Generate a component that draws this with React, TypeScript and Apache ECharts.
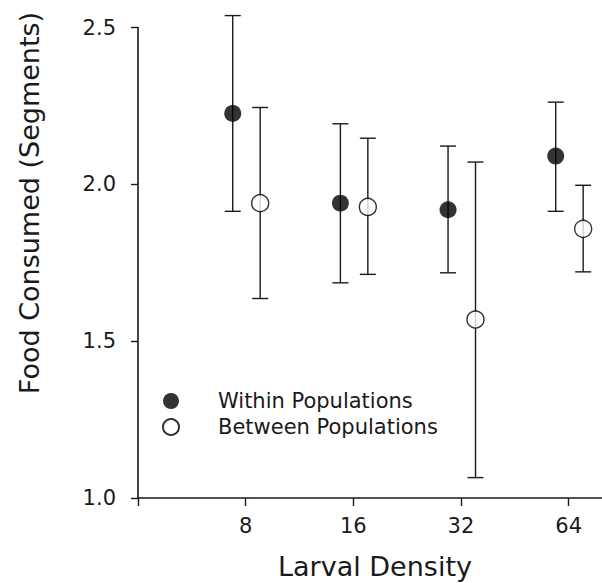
import React, { useEffect, useRef } from "react";
import * as echarts from "echarts";

// Larval density treatments (plotted on a log2 axis)
const densities = [8, 16, 32, 64];

// Within populations: mean and error-bar limits
const withinMean = [2.226, 1.94, 1.919, 2.09];
const withinLow = [1.914, 1.686, 1.718, 1.914];
const withinHigh = [2.538, 2.193, 2.122, 2.262];

// Between populations: mean and error-bar limits
const betweenMean = [1.94, 1.928, 1.569, 1.858];
const betweenLow = [1.636, 1.713, 1.065, 1.721];
const betweenHigh = [2.245, 2.147, 2.071, 1.997];

const yTicks = [1.0, 1.5, 2.0, 2.5];

const FONT = "DejaVu Sans";
const INK = "#1a1a1a";
const SHIFT_LEFT = -0.12;
const SHIFT_RIGHT = 0.135;

const lg = (d: number) => Math.log2(d);

function errorSeries(name: string, shift: number, low: number[], high: number[]) {
  return {
    type: "custom",
    name: name + " bars",
    silent: true,
    z: 2,
    data: densities.map((d, i) => [lg(d) + shift, low[i], high[i]]),
    renderItem: (_params: any, api: any) => {
      const x = api.value(0);
      const top = api.coord([x, api.value(2)]);
      const bot = api.coord([x, api.value(1)]);
      const hw = 8;
      const style = { stroke: INK, lineWidth: 1.4 };
      return {
        type: "group",
        children: [
          { type: "line", shape: { x1: top[0], y1: top[1], x2: bot[0], y2: bot[1] }, style },
          { type: "line", shape: { x1: top[0] - hw, y1: top[1], x2: top[0] + hw, y2: top[1] }, style },
          { type: "line", shape: { x1: bot[0] - hw, y1: bot[1], x2: bot[0] + hw, y2: bot[1] }, style },
        ],
      };
    },
  };
}

export default function App() {
  const ref = useRef<HTMLDivElement>(null);

  useEffect(() => {
    if (!ref.current) return;
    const chart = echarts.init(ref.current, null, { renderer: "svg" });
    chart.setOption({
      animation: false,
      backgroundColor: "#ffffff",
      textStyle: { fontFamily: FONT, color: INK },
      grid: { left: 138, top: 27.5, right: 0, bottom: 85, containLabel: false },
      legend: {
        orient: "vertical",
        left: 157,
        top: 385.5,
        itemWidth: 16,
        itemHeight: 16,
        itemGap: 5,
        icon: "circle",
        textStyle: { fontFamily: FONT, fontSize: 21, color: INK, padding: [0, 0, 0, 34] },
        data: ["Within Populations", "Between Populations"],
      },
      xAxis: {
        type: "value",
        min: 2,
        max: 6.31,
        interval: 1,
        splitLine: { show: false },
        axisLine: { lineStyle: { color: INK, width: 1.6 } },
        axisTick: {
          show: true,
          length: 8,
          inside: false,
          lineStyle: { color: INK, width: 1.4 },
          customValues: [2, 3, 4, 5, 6],
        },
        axisLabel: {
          fontFamily: FONT,
          fontSize: 21,
          color: INK,
          margin: 17,
          customValues: densities.map(lg),
          formatter: (v: number) => String(Math.round(Math.pow(2, v))),
        },
      },
      yAxis: {
        type: "value",
        min: 1,
        max: 2.5,
        interval: 0.5,
        splitLine: { show: false },
        axisLine: { show: true, lineStyle: { color: INK, width: 1.6 } },
        axisTick: {
          show: true,
          length: 7,
          lineStyle: { color: INK, width: 1.4 },
          customValues: yTicks,
        },
        axisLabel: {
          fontFamily: FONT,
          fontSize: 21,
          color: INK,
          margin: 22,
          customValues: yTicks,
          formatter: (v: number) => v.toFixed(1),
        },
      },
      graphic: [
        {
          type: "text",
          x: 29,
          y: 203,
          rotation: Math.PI / 2,
          style: {
            text: "Food Consumed (Segments)",
            fontFamily: FONT,
            fontSize: 27,
            fill: INK,
            align: "center",
            verticalAlign: "middle",
          },
        },
        {
          type: "text",
          x: 375,
          y: 566,
          style: {
            text: "Larval Density",
            fontFamily: FONT,
            fontSize: 27,
            fill: INK,
            align: "center",
            verticalAlign: "middle",
          },
        },
      ],
      series: [
        errorSeries("Within Populations", SHIFT_LEFT, withinLow, withinHigh),
        errorSeries("Between Populations", SHIFT_RIGHT, betweenLow, betweenHigh),
        {
          type: "scatter",
          name: "Within Populations",
          z: 5,
          symbol: "circle",
          symbolSize: 17,
          itemStyle: { color: "#000000", borderColor: "#000000", borderWidth: 0 },
          data: densities.map((d, i) => [lg(d) + SHIFT_LEFT, withinMean[i]]),
        },
        {
          type: "scatter",
          name: "Between Populations",
          z: 5,
          symbol: "circle",
          symbolSize: 17,
          itemStyle: { color: "#ffffff", borderColor: "#000000", borderWidth: 1.4 },
          data: densities.map((d, i) => [lg(d) + SHIFT_RIGHT, betweenMean[i]]),
        },
      ],
    });
    return () => chart.dispose();
  }, []);

  return (
    <div
      ref={ref}
      style={{ position: "fixed", left: 0, top: 0, width: 602, height: 583 }}
    />
  );
}
